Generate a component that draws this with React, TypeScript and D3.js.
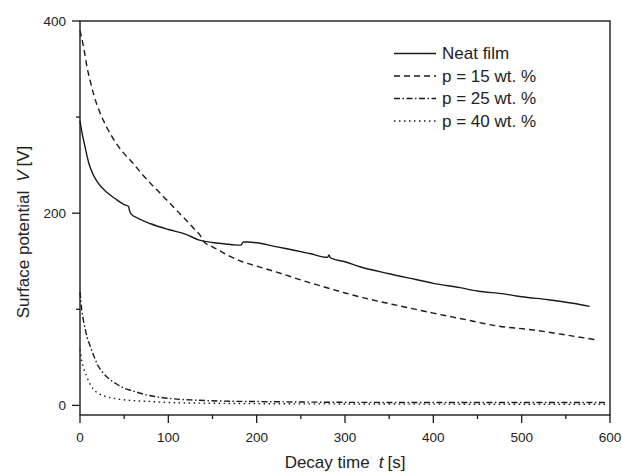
import React from "react";
import * as d3 from "d3";

// ---- Data ----
const neatT = [0, 2, 5, 10, 15, 20, 30, 40, 50, 55, 56, 58, 65, 80, 100, 120, 135, 150, 165, 175, 182, 185, 190, 204, 220, 241, 260, 280, 282, 283, 285, 300, 317, 350, 380, 400, 430, 450, 480, 500, 530, 560, 577];
const neatV = [296, 285, 272, 252, 240, 232, 222, 215, 209, 207, 203, 199, 195, 189, 183, 178, 172, 169.5, 168, 167, 166.8, 170, 170, 168.7, 165.5, 161.7, 158, 154, 156.5, 154, 153, 149.5, 144.3, 137, 131, 127, 122.5, 119, 116, 113, 110, 106, 103];

const p15T = [0, 2, 5, 8, 12, 16, 22, 30, 40, 50, 60, 70, 83, 98, 113, 120, 130, 136, 140, 150, 160, 170, 184, 200, 230, 250, 272, 300, 330, 362, 400, 438, 470, 513, 545, 583];
const p15V = [390, 382, 368, 352, 336, 322, 306, 290, 274, 262, 252, 241, 228, 214, 199.5, 193, 183, 177, 170.5, 165, 160, 155, 149.5, 145, 136.5, 130.5, 124.5, 117, 110, 103.5, 96, 89, 83, 78.5, 74, 68.5];

const p25T = [0, 1, 2, 4, 6, 8, 11, 15, 20, 25, 30, 40, 50, 60, 75, 90, 110, 130, 160, 200, 250, 300, 400, 500, 597];
const p25V = [118, 108, 99, 88, 79, 71, 63, 53, 42, 35, 30, 23, 18, 15, 11, 8.5, 6.5, 5.5, 4.5, 4, 3.5, 3.2, 3, 3, 3];

const p40T = [0, 1, 2, 4, 6, 8, 11, 15, 20, 30, 40, 60, 80, 100, 150, 200, 300, 400, 500, 597];
const p40V = [58, 52, 46, 39, 34, 29, 23, 17, 13, 9, 7, 5, 4, 3, 2.2, 1.8, 1.5, 1.3, 1.2, 1.2];

const seriesNames = ["Neat film", "p = 15 wt. %", "p = 25 wt. %", "p = 40 wt. %"];
const xMajorTicks = [0, 100, 200, 300, 400, 500, 600];
const xMinorTicks = [50, 150, 250, 350, 450, 550];
const yMajorTicks = [0, 200, 400];
const yMinorTicks = [100, 300];

const W = 622;
const H = 472;
const FONT = "'Liberation Sans', Arial, Helvetica, sans-serif";

export default function App() {
  const x = d3.scaleLinear().domain([0, 600]).range([80, 610]);
  const y = d3.scaleLinear().domain([-10, 400]).range([415, 21]);

  const line = d3
    .line<[number, number]>()
    .x((d) => x(d[0]))
    .y((d) => y(d[1]))
    .curve(d3.curveMonotoneX);

  const series = [
    { name: seriesNames[0], t: neatT, v: neatV, dash: "none" },
    { name: seriesNames[1], t: p15T, v: p15V, dash: "6,4" },
    { name: seriesNames[2], t: p25T, v: p25V, dash: "6,2.5,1.5,2.5" },
    { name: seriesNames[3], t: p40T, v: p40V, dash: "1.5,3.5" },
  ];

  const [x0, x1] = x.range();
  const yBottom = y(-10);
  const yTop = y(400);
  const stroke = "#1a1a1a";

  return (
    <svg
      width={W}
      height={H}
      style={{ position: "absolute", left: 0, top: 0, background: "#fff" }}
      fontFamily={FONT}
    >
      <rect x={0} y={0} width={W} height={H} fill="#fff" />
      {/* data */}
      {series.map((s) => (
        <path
          key={s.name}
          d={line(s.t.map((t, i) => [t, s.v[i]] as [number, number])) || ""}
          fill="none"
          stroke={stroke}
          strokeWidth={1.4}
          strokeDasharray={s.dash}
        />
      ))}
      {/* frame */}
      <rect
        x={x0}
        y={yTop}
        width={x1 - x0}
        height={yBottom - yTop}
        fill="none"
        stroke={stroke}
        strokeWidth={1.4}
      />
      {/* y ticks */}
      {yMajorTicks.map((v) => (
        <g key={"ym" + v}>
          <line x1={x0 - 8} x2={x0} y1={y(v)} y2={y(v)} stroke={stroke} strokeWidth={1.3} />
          <text x={x0 - 14} y={y(v)} dy="0.36em" textAnchor="end" fontSize={13.5} fill="#222">
            {v}
          </text>
        </g>
      ))}
      {yMinorTicks.map((v) => (
        <line key={"yn" + v} x1={x0 - 4} x2={x0} y1={y(v)} y2={y(v)} stroke={stroke} strokeWidth={1.3} />
      ))}
      {/* x ticks */}
      {xMajorTicks.map((v) => (
        <g key={"xm" + v}>
          <line x1={x(v)} x2={x(v)} y1={yBottom} y2={yBottom + 8} stroke={stroke} strokeWidth={1.3} />
          <text x={x(v)} y={yBottom + 27} textAnchor="middle" fontSize={13.5} fill="#222">
            {v}
          </text>
        </g>
      ))}
      {xMinorTicks.map((v) => (
        <line key={"xn" + v} x1={x(v)} x2={x(v)} y1={yBottom} y2={yBottom + 4} stroke={stroke} strokeWidth={1.3} />
      ))}
      {/* axis titles */}
      <text x={345} y={468} textAnchor="middle" fontSize={17} fill="#222">
        <tspan>Decay time</tspan>
        <tspan dx={9} fontStyle="italic">t</tspan>
        <tspan dx={4}>[s]</tspan>
      </text>
      <text
        transform={`translate(28.5,${232}) rotate(-90)`}
        textAnchor="middle"
        fontSize={17}
        fill="#222"
      >
        <tspan>Surface potential</tspan>
        <tspan dx={9} fontStyle="italic">V</tspan>
        <tspan dx={4}>[V]</tspan>
      </text>
      {/* legend */}
      {series.map((s, i) => {
        const by = 59 + i * 22.5;
        return (
          <g key={"lg" + s.name}>
            <line
              x1={394}
              x2={436}
              y1={by - 5.5}
              y2={by - 5.5}
              stroke={stroke}
              strokeWidth={1.3}
              strokeDasharray={s.dash}
            />
            <text x={442} y={by} fontSize={17} fill="#222">
              {s.name}
            </text>
          </g>
        );
      })}
    </svg>
  );
}
